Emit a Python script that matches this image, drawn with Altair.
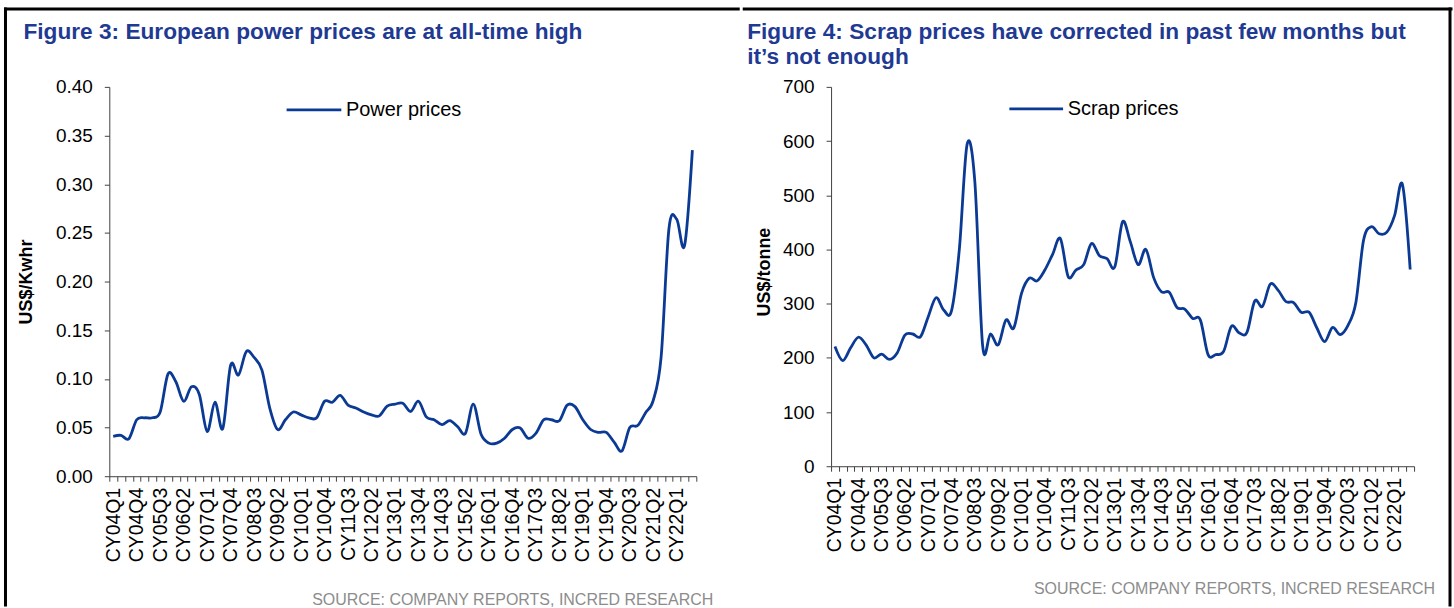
import json
import altair as alt
import pandas as pd

# ---------------- data ----------------
quarters = [f"CY{y:02d}Q{q}" for y in range(4, 23) for q in range(1, 5)][:75]
shown_labels = quarters[::3]

power_prices = [
    0.041, 0.042, 0.0385, 0.058, 0.060, 0.060, 0.066, 0.105, 0.097, 0.077,
    0.092, 0.084, 0.046, 0.076, 0.049, 0.114, 0.104, 0.128, 0.122, 0.109,
    0.070, 0.048, 0.058, 0.066, 0.063, 0.060, 0.060, 0.077, 0.076, 0.083,
    0.073, 0.070, 0.066, 0.063, 0.062, 0.072, 0.074, 0.075, 0.0665, 0.077,
    0.061, 0.058, 0.053, 0.057, 0.051, 0.044, 0.074, 0.043, 0.034, 0.034,
    0.039, 0.048, 0.0495, 0.039, 0.044, 0.058, 0.058, 0.057, 0.073, 0.0715,
    0.058, 0.048, 0.045, 0.045, 0.035, 0.026, 0.050, 0.052, 0.065, 0.078,
    0.122, 0.254, 0.264, 0.237, 0.335,
]

scrap_prices = [
    221, 195, 218, 238, 224, 200, 207, 197, 209, 242,
    244, 239, 276, 311, 288, 287, 400, 594, 524, 222,
    244, 224, 270, 255, 319, 347, 342, 362, 391, 420,
    350, 362, 372, 411, 389, 383, 368, 451, 414, 372,
    400, 348, 322, 321, 293, 290, 273, 270, 206, 206,
    212, 258, 246, 247, 305, 295, 336, 325, 304, 302,
    284, 284, 255, 230, 256, 243, 260, 301, 417, 442,
    429, 432, 463, 520, 363,
]

power_ticks = [0.0, 0.05, 0.10, 0.15, 0.20, 0.25, 0.30, 0.35, 0.40]
scrap_ticks = [0, 100, 200, 300, 400, 500, 600, 700]

title3 = "Figure 3: European power prices are at all-time high"
title4 = ["Figure 4: Scrap prices have corrected in past few months but",
          "it\u2019s not enough"]
source_text = "SOURCE: COMPANY REPORTS, INCRED RESEARCH"

# ---------------- style ----------------
FONT = "Liberation Sans"
LINE = "#0B3A94"
TITLE_C = "#1F3A93"
AXIS_C = "#404040"
SRC_C = "#8C8C8C"

W1, H1 = 588, 390
W2, H2 = 584, 380

df_power = pd.DataFrame({"q": quarters, "v": power_prices})
df_scrap = pd.DataFrame({"q": quarters, "v": scrap_prices})
one = pd.DataFrame({"a": [0]})

label_expr = f"indexof({json.dumps(shown_labels)}, datum.value) >= 0 ? datum.value : ''"


def x_enc():
    return alt.X(
        "q:N", sort=quarters, bandPosition=0.5,
        scale=alt.Scale(type="band", domain=quarters, paddingInner=0, paddingOuter=0),
        axis=alt.Axis(
            title=None, labelAngle=270, labelAlign="right", labelBaseline="middle",
            labelFont=FONT, labelFontSize=19.5, labelColor="#000000", labelPadding=6,
            labelOverlap=False, labelExpr=label_expr, tickBand="extent", tickSize=5,
            tickColor=AXIS_C, domainColor=AXIS_C, grid=False,
        ),
    )


def y_axis(values, fmt, title, tx, ty):
    return alt.Axis(
        values=values, format=fmt, title=title, titleX=tx, titleY=ty, titleAngle=270,
        titleAlign="center", titleBaseline="middle", titleFont=FONT, titleFontSize=18,
        titleFontWeight="bold", titleColor="#000000", labelFont=FONT, labelFontSize=19,
        labelColor="#000000", labelPadding=12, tickSize=5, tickColor=AXIS_C,
        domainColor=AXIS_C, grid=False,
    )


def deco_text(text, x, y, size, color, weight="normal", align="left", baseline="middle", line_h=None):
    kw = dict(text=text, font=FONT, fontSize=size, color=color, fontWeight=weight,
              align=align, baseline=baseline)
    if line_h:
        kw["lineHeight"] = line_h
    return alt.Chart(one).mark_text(**kw).encode(x=alt.value(x), y=alt.value(y))


def hrule(x1, x2, y, width=3, color="#000000"):
    return alt.Chart(one).mark_rule(color=color, strokeWidth=width, strokeCap="square").encode(
        x=alt.value(x1), x2=alt.value(x2), y=alt.value(y))


def vrule(x, y1, y2, width=3, color="#000000"):
    return alt.Chart(one).mark_rule(color=color, strokeWidth=width, strokeCap="square").encode(
        x=alt.value(x), y=alt.value(y1), y2=alt.value(y2))


# ---------------- left panel ----------------
line1 = alt.Chart(df_power).mark_line(interpolate="cardinal", color=LINE, strokeWidth=2.8).encode(
    x=x_enc(),
    y=alt.Y("v:Q", scale=alt.Scale(domain=[0, 0.4], nice=False, zero=True),
            axis=y_axis(power_ticks, ".2f", "US$/Kwhr", -83, 195)),
)

left = alt.layer(
    line1,
    hrule(179, 231, 23, width=2.8, color=LINE),
    deco_text("Power prices", 237, 23, 20, "#000000"),
    deco_text(title3, -86, -66, 22.7, TITLE_C, weight="bold", baseline="top"),
    deco_text(source_text, 605, 514, 16, SRC_C, align="right"),
    hrule(-104, 630, -78),
    vrule(-104, -78, 519),
).properties(width=W1, height=H1)

# ---------------- right panel ----------------
line2 = alt.Chart(df_scrap).mark_line(interpolate="cardinal", color=LINE, strokeWidth=2.8).encode(
    x=x_enc(),
    y=alt.Y("v:Q", scale=alt.Scale(domain=[0, 700], nice=False, zero=True),
            axis=y_axis(scrap_ticks, "d", "US$/tonne", -67, 185)),
)

right = alt.layer(
    line2,
    hrule(180, 231, 22, width=2.8, color=LINE),
    deco_text("Scrap prices", 237, 22, 20, "#000000"),
    deco_text(title4, -84, -66, 22.7, TITLE_C, weight="bold", baseline="top", line_h=25),
    deco_text(source_text, 605, 503, 16, SRC_C, align="right"),
    hrule(-87, 621, -78),
    vrule(620, -78, 519),
).properties(width=W2, height=H2)

chart = alt.hconcat(left, right, spacing=0).properties(
    padding={"left": 2.5, "top": 5.5, "right": 0, "bottom": 0},
    background="white",
).configure_view(stroke=None)

chart.save("out.html", embed_options={"renderer": "svg", "actions": False})
